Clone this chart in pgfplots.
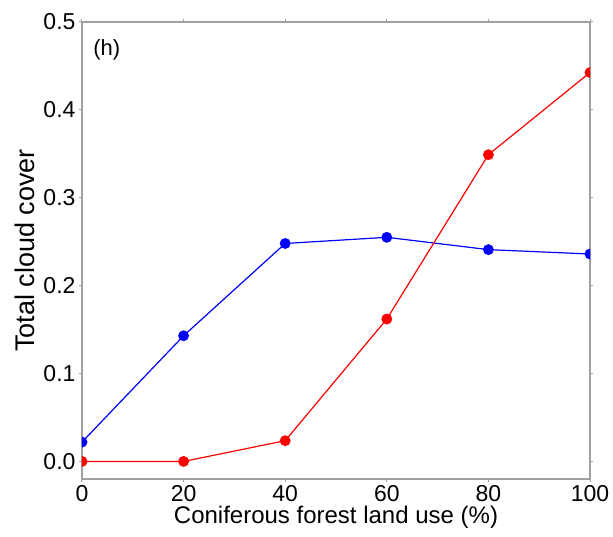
\documentclass[border=0pt]{standalone}
\usepackage{fontspec}
\setmainfont{Liberation Sans}
\usepackage{pgfplots}
\pgfplotsset{compat=1.18}

\definecolor{axgray}{HTML}{A0A0A0}

\begin{document}
\begin{tikzpicture}
\begin{axis}[
    scale only axis,
    width=508pt, height=457pt,
    xmin=0, xmax=100,
    ymin=-0.02, ymax=0.5,
    xtick={0,20,40,60,80,100},
    ytick={0,0.1,0.2,0.3,0.4,0.5},
    yticklabel style={/pgf/number format/.cd, fixed, fixed zerofill, precision=1},
    /pgf/number format/assume math mode=true,
    axis line style={axgray, line width=1.3pt},
    tick style={axgray, line width=1pt},
    tick align=outside,
    major tick length=3pt,
    ticklabel style={font=\fontsize{23}{26}\selectfont},
    xlabel={Coniferous forest land use (\%)},
    ylabel={Total cloud cover},
    xlabel style={font=\fontsize{24}{28}\selectfont, inner sep=1pt},
    ylabel style={font=\fontsize{27}{30}\selectfont, yshift=2pt},
    clip marker paths=true,
    every axis plot/.append style={line width=1.2pt, mark=*, mark size=4.8pt},
]
% blue series
\addplot[color=blue, mark options={fill=blue, draw=blue}] coordinates {
    (0, 0.022) (20, 0.143) (40, 0.248) (60, 0.255) (80, 0.241) (100, 0.236)
};
% red series
\addplot[color=red, mark options={fill=red, draw=red}] coordinates {
    (0, 0.0) (20, 0.0) (40, 0.0236) (60, 0.162) (80, 0.349) (100, 0.4425)
};
\node[anchor=north west, inner sep=0pt, font=\fontsize{22}{25}\selectfont] at (rel axis cs:0.022,0.962) {(h)};
\end{axis}
\pgfresetboundingbox
\path[use as bounding box] ([shift={(-82pt,-57pt)}]current axis.south west) rectangle ([shift={(23pt,22pt)}]current axis.north east);
\end{tikzpicture}
\end{document}
